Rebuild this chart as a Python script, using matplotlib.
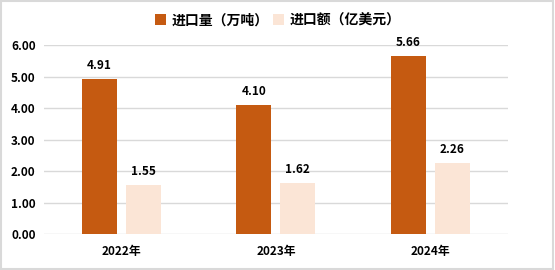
import matplotlib
matplotlib.use('Agg')
import matplotlib.pyplot as plt
import numpy as np

plt.rcParams['font.family'] = ['Noto Sans CJK SC', 'DejaVu Sans']

years = ['2022年', '2023年', '2024年']
volume = [4.91, 4.10, 5.66]   # 进口量（万吨）
value = [1.55, 1.62, 2.26]    # 进口额（亿美元）
series_names = ['进口量（万吨）', '进口额（亿美元）']
colors = ['#C55A11', '#FBE5D6']

fig = plt.figure(figsize=(5.55, 2.7), dpi=100)
ax = fig.add_axes([0.0793, 0.1333, 0.8356, 0.70])

x = np.arange(len(years))
w = 0.226
off = 0.142
b1 = ax.bar(x - off, volume, w, color=colors[0], label=series_names[0], zorder=3)
b2 = ax.bar(x + off, value, w, color=colors[1], label=series_names[1], zorder=3)

for bars in (b1, b2):
    for r in bars:
        h = r.get_height()
        ax.text(r.get_x() + r.get_width() / 2, h + 0.22, f'{h:.2f}',
                ha='center', va='bottom', fontsize=8.5, fontweight='bold')

ax.set_xlim(-0.5, 2.5)
ax.set_ylim(0, 6)
ax.set_yticks(np.arange(0, 6.01, 1))
ax.set_yticklabels([f'{v:.2f}' for v in np.arange(0, 6.01, 1)], fontsize=8.5, fontweight='bold')
ax.set_xticks(x)
ax.set_xticklabels(years, fontsize=8.5, fontweight='bold')
ax.tick_params(axis='y', length=0, pad=6)
ax.tick_params(axis='x', length=0, pad=8)
ax.grid(axis='y', color='#D9D9D9', linewidth=1, zorder=0)
for s in ax.spines.values():
    s.set_visible(False)

fig.legend(loc='center', bbox_to_anchor=(0.5, 0.925), ncol=2, frameon=False,
           handlelength=0.8, handleheight=0.8, columnspacing=0.3,
           handletextpad=0.4, prop={'weight': 'bold', 'size': 10})

fig.patches.append(plt.Rectangle((0.002, 0.004), 0.995, 0.992, transform=fig.transFigure,
                                 fill=False, edgecolor='#D9D9D9', linewidth=1.5))

fig.savefig('out.png', dpi=100)
